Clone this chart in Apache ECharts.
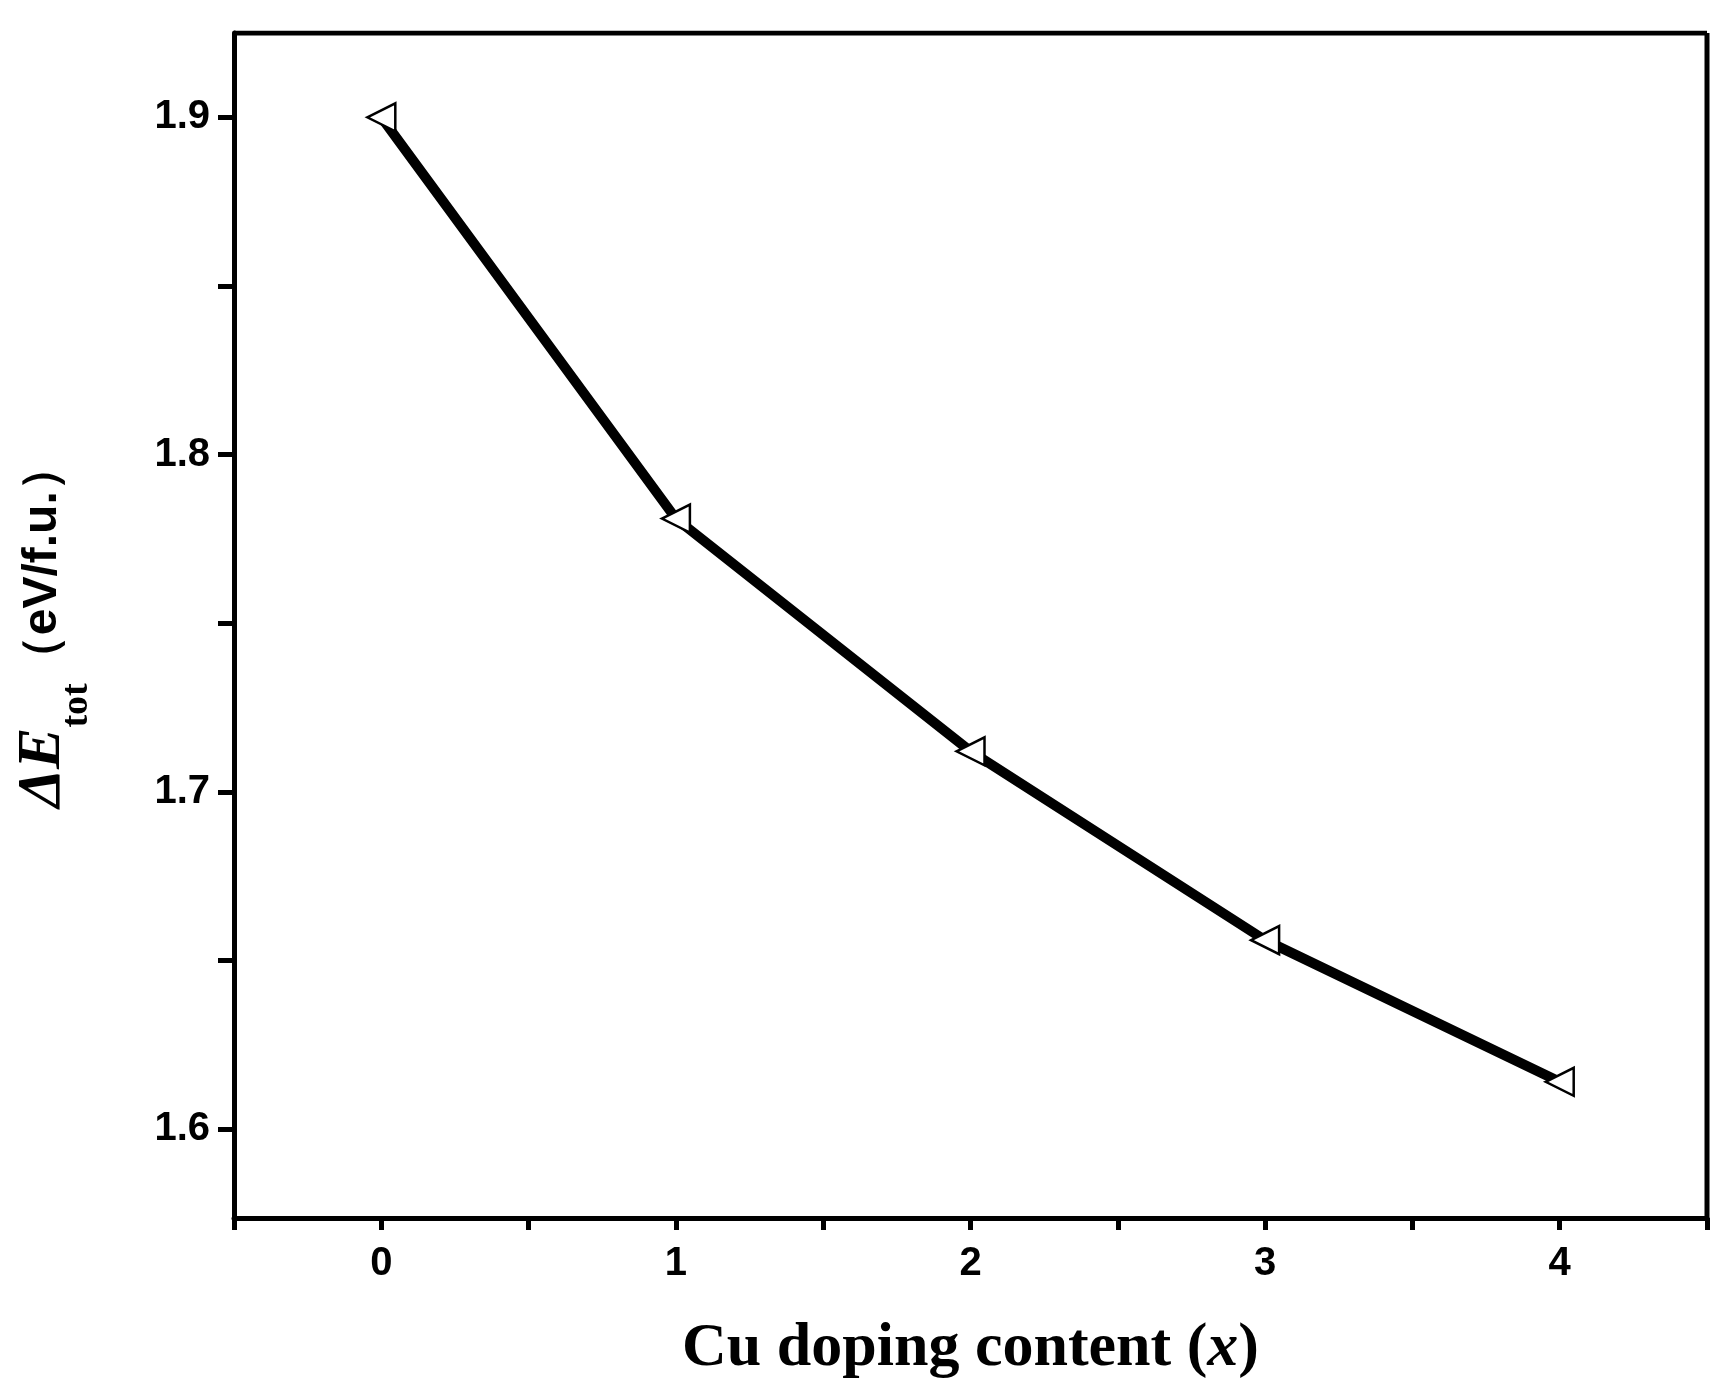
<!DOCTYPE html><html><head><meta charset="utf-8"><script src="https://cdn.jsdelivr.net/npm/echarts@6/dist/echarts.min.js"></script></head><body style="margin:0;background:#fff"><div id="c" style="width:1735px;height:1391px"></div><script>
const xValues=[0,1,2,3,4];
const yValues=[1.900,1.781,1.712,1.656,1.614];
const yTicks=[1.6,1.65,1.7,1.75,1.8,1.85,1.9];
const yLabels=[1.6,1.7,1.8,1.9];
const xTicks=[-0.5,0,0.5,1,1.5,2,2.5,3,3.5,4,4.5];
const xLabels=[0,1,2,3,4];
const ch=echarts.init(document.getElementById('c'));
const lab={fontFamily:'Liberation Sans Narrow, Liberation Sans, Arial',fontWeight:'bold',fontSize:40,color:'#000'};
ch.setOption({
animation:false,
grid:{left:234,right:28,top:33,bottom:173},
xAxis:{type:'value',min:-0.5,max:4.5,
 name:'{a|Cu doping content (}{i|x}{a|)}',nameLocation:'middle',nameGap:100,
 nameTextStyle:{rich:{
  a:{fontFamily:'Liberation Serif, Times New Roman',fontWeight:'bold',fontSize:62,color:'#000'},
  i:{fontFamily:'Liberation Serif, Times New Roman',fontWeight:'bold',fontStyle:'italic',fontSize:62,color:'#000'}}},
 axisLine:{onZero:false,lineStyle:{color:'#000',width:5}},
 axisTick:{customValues:xTicks,length:12,lineStyle:{width:5,color:'#000'}},
 axisLabel:Object.assign({customValues:xLabels,margin:26},lab),
 splitLine:{show:false}},
yAxis:{type:'value',min:1.5736,max:1.925,
 name:'{d|ΔE}{s|tot}{u|（eV/f.u.）}',nameLocation:'middle',nameGap:160,
 nameTextStyle:{rich:{
  d:{fontFamily:'Liberation Serif',fontStyle:'italic',fontWeight:'bold',fontSize:62,color:'#000'},
  s:{fontFamily:'Liberation Serif',fontWeight:'bold',fontSize:38,color:'#000',verticalAlign:'bottom',padding:[0,0,-22,0]},
  u:{fontFamily:'Liberation Sans, Arial',fontWeight:'bold',fontSize:48,color:'#000'}}},
 axisLine:{onZero:false,lineStyle:{color:'#000',width:5}},
 axisTick:{customValues:yTicks,length:16,lineStyle:{width:5,color:'#000'}},
 axisLabel:Object.assign({customValues:yLabels,margin:24,formatter:v=>v.toFixed(1)},lab),
 splitLine:{show:false}},
series:[
 {type:'line',data:xValues.map((x,i)=>[x,yValues[i]]),lineStyle:{color:'#000',width:10},
  symbol:'triangle',symbolRotate:90,symbolSize:28,
  itemStyle:{color:'#fff',borderColor:'#000',borderWidth:2.5}},
 {type:'line',data:[[-0.5,1.925],[4.5,1.925]],symbol:'none',lineStyle:{color:'#000',width:5},silent:true},
 {type:'line',data:[[4.5,1.5736],[4.5,1.925]],symbol:'none',lineStyle:{color:'#000',width:5},silent:true}
]});
</script></body></html>
